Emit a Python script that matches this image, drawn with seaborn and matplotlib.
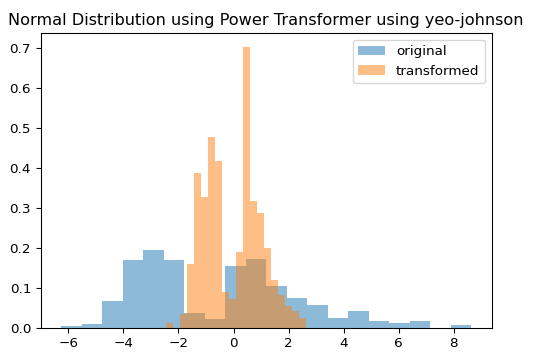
import numpy as np
import pandas as pd
import matplotlib
matplotlib.use("Agg")
import matplotlib.pyplot as plt
import seaborn as sns

# ---- data (density of each histogram bin) ----
orig_range = (-6.265, 8.63)
orig_density = [0.004, 0.010, 0.068, 0.169, 0.195, 0.169, 0.036, 0.022, 0.155, 0.173,
                0.105, 0.075, 0.058, 0.024, 0.042, 0.018, 0.011, 0.018, 0.0, 0.007]

trans_range = (-2.446, 2.628)
trans_density = [0.011, 0.0, 0.034, 0.160, 0.387, 0.326, 0.476, 0.418, 0.089, 0.072,
                 0.190, 0.702, 0.318, 0.288, 0.199, 0.119, 0.082, 0.055, 0.043, 0.025]

labels = ["original", "transformed"]
title = "Normal Distribution using Power Transformer using yeo-johnson"
x_ticks = [-6, -4, -2, 0, 2, 4, 6, 8]
y_ticks = [0.0, 0.1, 0.2, 0.3, 0.4, 0.5, 0.6, 0.7]


def bin_centers(rng, n):
    edges = np.linspace(rng[0], rng[1], n + 1)
    return (edges[:-1] + edges[1:]) / 2


df_orig = pd.DataFrame({"x": bin_centers(orig_range, len(orig_density)), "w": orig_density})
df_trans = pd.DataFrame({"x": bin_centers(trans_range, len(trans_density)), "w": trans_density})

dpi = 97
fig = plt.figure(figsize=(534 / dpi, 358 / dpi), dpi=dpi)
ax = fig.add_axes([40.5 / 534, 30.3 / 358, 451.2 / 534, 294.7 / 358])

sns.histplot(data=df_orig, x="x", weights="w", bins=len(orig_density), binrange=orig_range,
             stat="count", color="#1f77b4", alpha=0.5, linewidth=0, label=labels[0], ax=ax)
sns.histplot(data=df_trans, x="x", weights="w", bins=len(trans_density), binrange=trans_range,
             stat="count", color="#ff7f0e", alpha=0.5, linewidth=0, label=labels[1], ax=ax)

ax.set_xlabel("")
ax.set_ylabel("")
ax.set_xticks(x_ticks)
ax.set_yticks(y_ticks)
ax.set_xticklabels([f"{t:g}".replace("-", "\u2212") for t in x_ticks])
ax.set_yticklabels([f"{t:.1f}" for t in y_ticks])
ax.tick_params(labelsize=10)
ax.set_xlim(-7.01, 9.375)
ax.set_ylim(0, 0.737)
ax.set_title(title, fontsize=12)
ax.legend(loc="upper right", fontsize=10)

fig.savefig("out.png", dpi=dpi)
